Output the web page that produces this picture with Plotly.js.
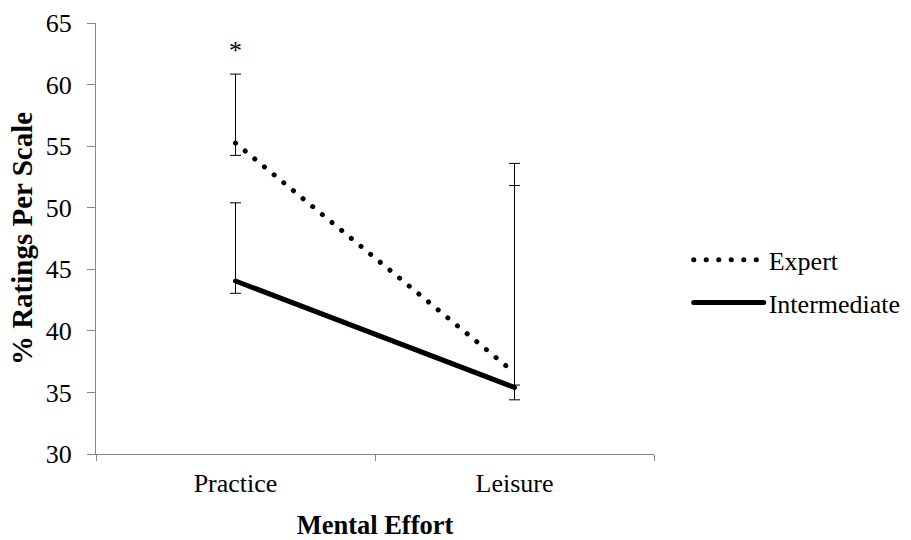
<!DOCTYPE html>
<html><head><meta charset="utf-8">
<script src="https://cdn.plot.ly/plotly-3.0.1.min.js"></script>
<style>body{margin:0;background:#fff}#c{width:911px;height:540px}
path.js-line{stroke-linecap:round}</style>
</head><body><div id="c"></div>
<script>
const categories = ["Practice", "Leisure"];
const expert = [55.25, 36.6];
const expertPlus = [5.6, 17.0];
const expertMinus = [1.0, 1.0];
const intermediate = [44.05, 35.4];
const intermediatePlus = [6.35, 16.4];
const intermediateMinus = [1.0, 1.0];
const yTicks = [30, 35, 40, 45, 50, 55, 60, 65];
const sigLabel = "*";
const sigCategory = "Practice";
const sigY = 62.8;

const font = "Liberation Serif, Times New Roman, serif";
const traces = [
  {x: categories, y: expert, name: "Expert", type: "scatter", mode: "lines",
   legendgroup: "a",
   line: {color: "#000", width: 5, dash: "0.1px,12.4px"},
   error_y: {type: "data", symmetric: false, array: expertPlus, arrayminus: expertMinus,
             color: "#000", thickness: 1, width: 5.5}},
  {x: categories, y: intermediate, name: "Intermediate", type: "scatter", mode: "lines",
   legendgroup: "b",
   line: {color: "#000", width: 5},
   error_y: {type: "data", symmetric: false, array: intermediatePlus, arrayminus: intermediateMinus,
             color: "#000", thickness: 1, width: 5.5}}
];
const layout = {
  width: 911, height: 540,
  margin: {l: 96, r: 257, t: 23, b: 86, autoexpand: false},
  paper_bgcolor: "#fff", plot_bgcolor: "#fff",
  font: {family: font, size: 26, color: "#000"},
  showlegend: true,
  legend: {xref: "container", yref: "container", x: 0.756, y: 0.479, xanchor: "left", yanchor: "middle",
           traceorder: "grouped", tracegroupgap: 6,
           font: {family: font, size: 26, color: "#000"}, itemwidth: 70},
  xaxis: {type: "category", range: [-0.5, 1.5], showline: true, linecolor: "#868686", linewidth: 1,
          ticks: "outside", tickson: "boundaries", ticklen: 6, tickcolor: "#868686",
          ticklabelstandoff: 6,
          tickfont: {family: font, size: 26, color: "#000"},
          showgrid: false, zeroline: false,
          title: {text: "<b>Mental Effort</b>", font: {family: font, size: 26.5, color: "#000"}, standoff: 20}},
  yaxis: {range: [30, 65], tickvals: yTicks, showline: true, linecolor: "#868686", linewidth: 1,
          ticks: "outside", ticklen: 8, tickcolor: "#868686", ticklabelstandoff: 10,
          tickfont: {family: font, size: 26, color: "#000"},
          showgrid: false, zeroline: false,
          title: {text: "<b>% Ratings Per Scale</b>", font: {family: font, size: 29, color: "#000"}, standoff: 4}},
  annotations: [{x: sigCategory, y: sigY, text: sigLabel, showarrow: false,
                 font: {family: font, size: 26, color: "#000"}}]
};
Plotly.newPlot("c", traces, layout, {displayModeBar: false, staticPlot: true});
</script></body></html>
